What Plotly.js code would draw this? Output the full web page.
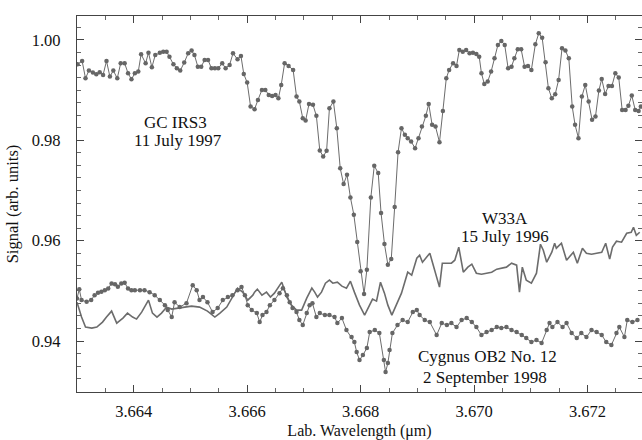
<!DOCTYPE html>
<html>
<head>
<meta charset="utf-8">
<script src="https://cdn.plot.ly/plotly-3.0.1.min.js"></script>
<style>html,body{margin:0;padding:0;background:#fff;}#chart{width:642px;height:440px;}</style>
</head>
<body>
<div id="chart"></div>
<script>
// GC IRS3, 11 July 1997 (dotted line with markers)
const gcX = [3.66301,3.66309,3.66315,3.66321,3.66328,3.66334,3.66340,3.66346,3.66352,3.66358,3.66364,3.66371,3.66377,3.66384,3.66390,3.66396,3.66402,3.66408,3.66413,3.66421,3.66426,3.66432,3.66438,3.66446,3.66452,3.66458,3.66463,3.66470,3.66476,3.66482,3.66489,3.66496,3.66502,3.66507,3.66513,3.66519,3.66525,3.66531,3.66537,3.66543,3.66549,3.66556,3.66562,3.66569,3.66575,3.66583,3.66589,3.66594,3.66600,3.66606,3.66613,3.66619,3.66626,3.66632,3.66638,3.66644,3.66650,3.66655,3.66660,3.66666,3.66673,3.66681,3.66687,3.66692,3.66698,
3.66703,3.66709,3.66716,3.66722,3.66728,3.66734,3.66740,3.66745,3.66752,3.66758,3.66764,3.66770,3.66776,3.66782,3.66788,3.66794,3.66800,3.66806,3.66811,3.66818,3.66824,3.66831,3.66836,3.66842,3.66848,3.66854,3.66860,3.66866,3.66872,3.66878,3.66883,3.66889,3.66896,3.66902,3.66908,3.66915,3.66920,3.66926,3.66932,3.66939,3.66945,3.66951,3.66956,
3.66963,3.66969,3.66974,3.66980,3.66986,3.66992,3.66998,3.67004,3.67009,3.67013,3.67018,3.67024,3.67030,3.67036,3.67042,3.67048,3.67054,3.67060,3.67066,3.67071,3.67077,3.67083,3.67089,3.67095,3.67101,3.67108,3.67114,3.67120,3.67126,3.67131,3.67137,3.67143,3.67149,3.67155,3.67161,3.67167,3.67173,3.67178,3.67184,3.67190,3.67196,3.67202,3.67208,3.67214,3.67220,3.67225,3.67231,3.67237,3.67243,3.67249,3.67255,3.67261,3.67267,3.67272,3.67278,3.67284,3.67290,3.67294];
const gcY = [0.99516,0.99582,0.99237,0.99390,0.99350,0.99317,0.99357,0.99304,0.99582,0.99270,0.99390,0.99237,0.99536,0.99536,0.99337,0.99217,0.99337,0.99370,0.99715,0.99536,0.99748,0.99456,0.99702,0.99748,0.99768,0.99768,0.99668,0.99516,0.99436,0.99390,0.99549,0.99735,0.99788,0.99702,0.99469,0.99469,0.99602,0.99602,0.99436,0.99436,0.99436,0.99536,0.99436,0.99503,0.99735,0.99615,0.99682,0.99323,0.99151,0.98673,0.98620,0.98806,0.99005,0.99005,0.98906,0.98886,0.98906,0.98839,0.99105,0.99536,0.99483,0.99403,0.98873,0.98773,0.98441,
0.98395,0.98726,0.98707,0.98488,0.97798,0.97678,0.97791,0.98640,0.98773,0.98242,0.97446,0.97128,0.97314,0.96863,0.96518,0.95974,0.95390,0.94939,0.95423,0.96863,0.97493,0.97347,0.96551,0.95934,0.95523,0.95636,0.96670,0.97765,0.98242,0.98110,0.98043,0.97977,0.97844,0.98043,0.98275,0.98488,0.98726,0.98309,0.98275,0.97964,0.98587,0.99237,0.99403,
0.99536,0.99483,0.99801,0.99768,0.99801,0.99735,0.99748,0.99721,0.99668,0.99337,0.99124,0.99171,0.99370,0.99635,0.99901,0.99980,0.99901,0.99436,0.99469,0.99635,0.99814,0.99814,0.99469,0.99483,0.99403,0.99914,1.00133,1.00046,0.99556,0.99038,0.98839,0.98919,0.99204,0.99834,0.99788,0.99635,0.98673,0.98309,0.98043,0.98872,0.99105,0.98773,0.98408,0.98475,0.98992,0.99224,0.98925,0.99085,0.99085,0.99337,0.99251,0.98607,0.98607,0.98687,0.98892,0.98607,0.98587,0.98673];

// W33A, 15 July 1996 (solid line)
const w33X = [3.66300,3.66308,3.66315,3.66326,3.66335,3.66345,3.66352,3.66361,3.66370,3.66381,3.66389,3.66398,3.66405,3.66414,3.66423,3.66426,3.66433,3.66441,3.66449,3.66458,3.66467,3.66476,3.66490,3.66502,3.66516,3.66530,3.66543,3.66552,3.66564,3.66574,3.66583,3.66592,3.66601,3.66610,
3.66613,3.66618,3.66626,3.66634,3.66641,3.66648,3.66655,3.66661,3.66670,3.66678,3.66687,3.66696,3.66705,3.66714,3.66719,3.66724,3.66731,3.66738,3.66745,3.66751,3.66759,3.66767,3.66775,3.66782,3.66789,3.66798,3.66807,3.66816,3.66821,3.66828,3.66835,3.66842,3.66848,3.66855,3.66863,3.66872,3.66883,3.66890,3.66899,3.66904,3.66909,3.66916,3.66922,3.66927,3.66936,
3.66939,3.66944,3.66952,3.66960,3.66966,3.66973,3.66981,3.66989,3.66996,3.67004,3.67013,3.67022,3.67031,3.67040,3.67048,3.67057,3.67066,3.67075,3.67080,3.67085,3.67092,3.67101,3.67110,3.67117,3.67122,3.67128,3.67137,3.67142,3.67145,3.67154,3.67163,3.67168,3.67175,3.67182,3.67191,3.67198,3.67207,3.67216,3.67225,3.67232,3.67239,3.67244,3.67251,3.67260,3.67269,3.67277,3.67281,3.67286,3.67292];
const w33Y = [0.94776,0.94478,0.94279,0.94259,0.94279,0.94378,0.94478,0.94597,0.94358,0.94458,0.94557,0.94478,0.94438,0.94577,0.94756,0.94816,0.94557,0.94478,0.94557,0.94677,0.94637,0.94657,0.94677,0.94697,0.94677,0.94597,0.94478,0.94557,0.94677,0.94876,0.95055,0.94975,0.94816,0.94915,
0.94975,0.95035,0.94915,0.94975,0.94876,0.94955,0.95075,0.95174,0.94876,0.94716,0.94617,0.94617,0.94856,0.95055,0.94975,0.94876,0.94975,0.95154,0.95214,0.95154,0.95174,0.95095,0.95055,0.95194,0.94975,0.94716,0.94517,0.94716,0.94836,0.94796,0.95174,0.94955,0.94716,0.94517,0.94716,0.94955,0.95373,0.95313,0.95652,0.95711,0.95572,0.95672,0.95751,0.95552,0.95154,
0.95075,0.95552,0.95552,0.95552,0.95612,0.95871,0.95373,0.95473,0.95532,0.95353,0.95333,0.95353,0.95373,0.95433,0.95453,0.95473,0.95552,0.95512,0.94975,0.95473,0.95214,0.95154,0.95353,0.95930,0.95811,0.95572,0.95771,0.95950,0.95851,0.95950,0.95612,0.95672,0.95771,0.95552,0.95851,0.95751,0.95731,0.95751,0.95771,0.95950,0.95632,0.95871,0.95990,0.95970,0.96149,0.96169,0.96269,0.96109,0.96169];

// Cygnus OB2 No. 12, 2 September 1998 (line with markers)
const cygX = [3.66300,3.66304,3.66308,3.66317,3.66325,3.66331,3.66337,3.66343,3.66349,3.66355,3.66361,3.66367,3.66372,3.66378,3.66384,3.66390,3.66396,3.66402,3.66411,3.66419,3.66428,3.66437,3.66446,3.66455,3.66460,3.66467,3.66472,3.66481,3.66493,3.66504,3.66511,3.66516,3.66522,3.66530,3.66539,3.66548,3.66557,3.66566,3.66574,3.66583,3.66590,3.66596,3.66601,3.66608,3.66617,3.66622,3.66627,3.66634,3.66640,3.66648,3.66657,3.66663,3.66670,3.66675,3.66680,3.66687,3.66692,3.66698,3.66705,3.66710,3.66715,3.66722,3.66728,3.66737,3.66745,3.66754,3.66759,3.66767,3.66775,3.66784,3.66789,3.66793,3.66798,3.66804,3.66811,3.66816,3.66825,3.66833,3.66841,3.66844,3.66848,3.66851,3.66856,3.66865,3.66874,3.66883,3.66892,3.66899,3.66904,3.66913,3.66922,3.66934,3.66943,3.66952,3.66960,3.66969,3.66978,3.66987,3.66996,3.67004,3.67013,3.67022,3.67031,3.67040,3.67048,3.67057,3.67066,3.67075,3.67084,3.67092,3.67101,3.67110,3.67119,3.67128,3.67133,3.67138,3.67147,3.67156,3.67163,3.67172,3.67181,3.67189,3.67198,3.67207,3.67216,3.67225,3.67233,3.67242,3.67251,3.67256,3.67265,3.67270,3.67279,3.67288];
const cygY = [0.94850,0.95035,0.94816,0.94782,0.94816,0.94915,0.94961,0.94981,0.95015,0.95049,0.95148,0.95134,0.95081,0.95148,0.95160,0.95049,0.95015,0.95015,0.95015,0.95015,0.94975,0.94915,0.94816,0.94716,0.94617,0.94478,0.94776,0.94677,0.94756,0.95114,0.95015,0.94816,0.94876,0.94776,0.94577,0.94657,0.94816,0.94876,0.94915,0.95015,0.95075,0.94915,0.94716,0.94617,0.94557,0.94378,0.94517,0.94577,0.94716,0.94816,0.94955,0.95055,0.94915,0.94776,0.94657,0.94577,0.94418,0.94318,0.94557,0.94716,0.94756,0.94478,0.94557,0.94517,0.94517,0.94478,0.94358,0.94458,0.94219,0.94080,0.93980,0.93781,0.93622,0.93721,0.93861,0.94179,0.94219,0.94159,0.93622,0.93383,0.93562,0.93821,0.94159,0.94318,0.94418,0.94378,0.94577,0.94617,0.94517,0.94418,0.94378,0.94119,0.94358,0.94318,0.94358,0.94279,0.94418,0.94458,0.94378,0.94279,0.94119,0.94179,0.94219,0.94279,0.94259,0.94279,0.94219,0.94179,0.94119,0.94060,0.93980,0.94020,0.93960,0.94219,0.94358,0.94279,0.94378,0.94279,0.94358,0.94159,0.94060,0.94159,0.94080,0.94219,0.94179,0.94119,0.93980,0.93920,0.94159,0.94279,0.94080,0.94418,0.94378,0.94418];

const xTickVals = [3.664, 3.666, 3.668, 3.670, 3.672];
const xTickText = ["3.664", "3.666", "3.668", "3.670", "3.672"];
const yTickVals = [0.94, 0.96, 0.98, 1.00];
const yTickText = ["0.94", "0.96", "0.98", "1.00"];

const labels = [
  {text: "GC IRS3", x: 3.66474, y: 0.98358},
  {text: "11 July 1997", x: 3.66478, y: 0.98000},
  {text: "W33A", x: 3.67054, y: 0.96448},
  {text: "15 July 1996", x: 3.67054, y: 0.96090},
  {text: "Cygnus OB2 No. 12", x: 3.67024, y: 0.93702},
  {text: "2 September 1998", x: 3.67020, y: 0.93284}
];

const FONT = "Liberation Serif, Times New Roman, serif";
const GREY = "#6c6c6c";
const TXT = "#111";

const traces = [
  {x: w33X, y: w33Y, mode: "lines", line: {color: GREY, width: 1.6}, name: "W33A"},
  {x: cygX, y: cygY, mode: "lines+markers", line: {color: GREY, width: 1}, marker: {color: "#666", size: 4.5}, name: "Cygnus OB2 No. 12"},
  {x: gcX, y: gcY, mode: "lines+markers", line: {color: GREY, width: 1}, marker: {color: "#666", size: 4.5}, name: "GC IRS3"}
];

const layout = {
  width: 642, height: 440, autosize: false,
  margin: {l: 77, r: 0, t: 16, b: 48, pad: 0},
  paper_bgcolor: "#fff", plot_bgcolor: "#fff",
  showlegend: false,
  font: {family: FONT, color: TXT, size: 16},
  xaxis: {
    range: [3.663, 3.67296], tickvals: xTickVals, ticktext: xTickText,
    ticks: "inside", ticklen: 7, tickwidth: 1, tickcolor: "#444",
    showline: true, linecolor: "#444", linewidth: 1.2, mirror: "ticks",
    showgrid: false, zeroline: false,
    tickfont: {family: FONT, size: 16.5, color: TXT},
    ticklabelstandoff: 4,
    minor: {dtick: 0.0005, tick0: 3.664, ticks: "inside", ticklen: 4, tickcolor: "#666", showgrid: false},
    title: {text: "Lab. Wavelength (\u03bcm)", font: {family: FONT, size: 16, color: TXT}, standoff: 9},
    automargin: false
  },
  yaxis: {
    range: [0.92985, 1.00478], tickvals: yTickVals, ticktext: yTickText,
    ticks: "inside", ticklen: 7, tickwidth: 1, tickcolor: "#444",
    showline: true, linecolor: "#444", linewidth: 1.2, mirror: "ticks",
    showgrid: false, zeroline: false,
    tickfont: {family: FONT, size: 16.5, color: TXT},
    ticklabelstandoff: 12,
    minor: {dtick: 0.0025, tick0: 0.94, ticks: "inside", ticklen: 4, tickcolor: "#666", showgrid: false},
    title: {text: "Signal (arb. units)", font: {family: FONT, size: 16.5, color: TXT}, standoff: 8},
    automargin: false
  },
  annotations: labels.map(l => ({
    text: l.text, x: l.x, y: l.y, xref: "x", yref: "y",
    showarrow: false, xanchor: "center", yanchor: "middle",
    font: {family: FONT, size: 17, color: TXT}
  }))
};

Plotly.newPlot("chart", traces, layout, {staticPlot: true, displayModeBar: false});
</script>
</body>
</html>
